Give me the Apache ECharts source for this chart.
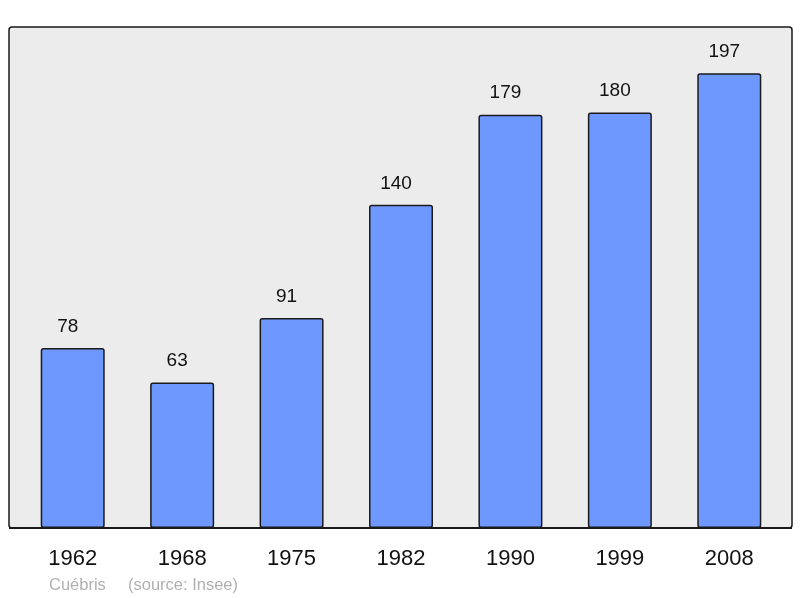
<!DOCTYPE html>
<html>
<head>
<meta charset="utf-8">
<script src="https://cdn.jsdelivr.net/npm/echarts@6/dist/echarts.min.js"></script>
<style>
  html, body { margin: 0; padding: 0; background: #fff; }
  #chart { width: 800px; height: 598px; }
</style>
</head>
<body>
<div id="chart"></div>
<script>
var years = ['1962', '1968', '1975', '1982', '1990', '1999', '2008'];
var population = [78, 63, 91, 140, 179, 180, 197];
var townName = 'Cuébris';
var sourceText = '(source: Insee)';

var chart = echarts.init(document.getElementById('chart'), null, { renderer: 'canvas' });
var fontFamily = 'Liberation Sans, Arial, sans-serif';

chart.setOption({
  animation: false,
  backgroundColor: '#ffffff',
  textStyle: { fontFamily: fontFamily },
  graphic: [
    {
      type: 'rect',
      z: -10,
      shape: { x: 9, y: 27, width: 783, height: 501, r: 3 },
      style: { fill: '#ececec', stroke: '#1a1a1a', lineWidth: 1.5 }
    },
    {
      type: 'line',
      z: 10,
      shape: { x1: 9, y1: 528, x2: 792, y2: 528 },
      style: { stroke: '#1a1a1a', lineWidth: 2.2 }
    },
    {
      type: 'text',
      left: 49,
      top: 577,
      style: { text: townName, fill: '#b0b0b0', fontSize: 16.5, fontFamily: fontFamily }
    },
    {
      type: 'text',
      left: 128,
      top: 577,
      style: { text: sourceText, fill: '#b0b0b0', fontSize: 16.5, fontFamily: fontFamily }
    }
  ],
  grid: { left: 18, right: 16, top: 27, bottom: 70 },
  xAxis: {
    type: 'category',
    data: years,
    axisLine: { show: false },
    axisTick: { show: false },
    axisLabel: { color: '#111', fontSize: 22, margin: 20 }
  },
  yAxis: {
    type: 'value',
    min: 0,
    max: 217,
    show: false,
    splitLine: { show: false }
  },
  series: [{
    type: 'bar',
    data: population,
    barWidth: 64,
    itemStyle: {
      color: '#6f98ff',
      borderColor: '#1a1a1a',
      borderWidth: 1.5,
      borderRadius: 2
    },
    label: {
      show: true,
      position: 'top',
      distance: 12,
      offset: [-5, 0],
      color: '#111',
      fontSize: 19
    }
  }]
});
</script>
</body>
</html>
